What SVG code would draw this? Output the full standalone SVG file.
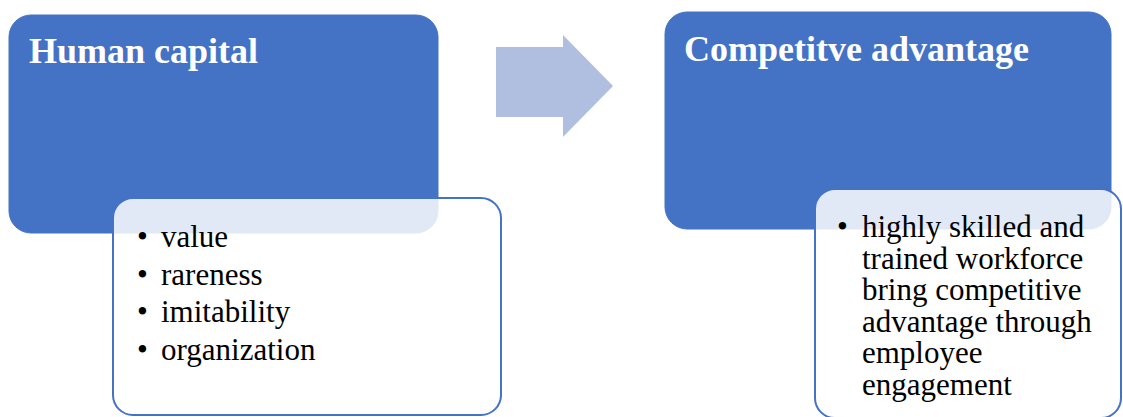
<svg xmlns="http://www.w3.org/2000/svg" width="1123" height="417" viewBox="0 0 1123 417">
<style>
.main{fill:#4472C4;stroke:#4472C4;stroke-width:1}
.sub{fill:#fff;fill-opacity:0.84;stroke:#4472C4;stroke-width:2}
.title{font-family:"Liberation Serif","Times New Roman",serif;font-weight:bold;font-size:36px;fill:#fff}
.item{font-family:"Liberation Serif","Times New Roman",serif;font-size:31px;fill:#000}
</style>
<g id="human-capital">
<rect class="main" x="9" y="15" width="429" height="218" rx="22"/>
<text class="title" x="29" y="63">Human capital</text>
</g>
<g id="human-capital-details">
<rect class="sub" x="113" y="198" width="388" height="217" rx="20"/>
<text class="item"><tspan x="137" y="247">•</tspan><tspan x="161" y="247">value</tspan></text>
<text class="item"><tspan x="137" y="285">•</tspan><tspan x="161" y="285">rareness</tspan></text>
<text class="item"><tspan x="137" y="322">•</tspan><tspan x="161" y="322">imitability</tspan></text>
<text class="item"><tspan x="137" y="360">•</tspan><tspan x="161" y="360">organization</tspan></text>
</g>
<g id="connectors">
<polygon points="496,47 563,47 563,35 613,86 563,137 563,117 496,117" fill="#B0BFE0"/>
</g>
<g id="competitive-advantage">
<rect class="main" x="665" y="12" width="446" height="217" rx="22"/>
<text class="title" x="684" y="61">Competitve advantage</text>
</g>
<g id="competitive-advantage-details">
<rect class="sub" x="815" y="189" width="306" height="229" rx="20"/>
<text class="item"><tspan x="837" y="237">•</tspan><tspan x="862" y="237">highly skilled and</tspan><tspan x="862" y="268.6">trained workforce</tspan><tspan x="862" y="300.2">bring competitive</tspan><tspan x="862" y="331.8">advantage through</tspan><tspan x="862" y="363.4">employee</tspan><tspan x="862" y="395">engagement</tspan></text>
</g>
</svg>
